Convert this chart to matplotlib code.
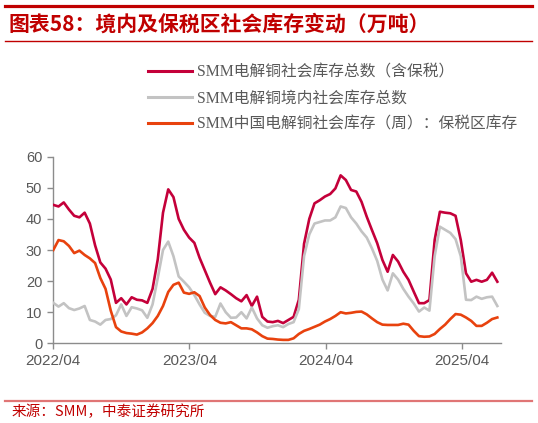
import matplotlib
matplotlib.use("Agg")
import matplotlib.pyplot as plt
from matplotlib.lines import Line2D
import pandas as pd

# ---- data (万吨), biweekly readings starting 2022-04-01 ----
start_date = "2022-04-01"
total_incl_bonded = [
    44.5, 44.0, 45.3, 43.0, 41.0, 40.5, 42.0, 38.5, 31.5, 26.0,
    24.0, 20.5, 13.0, 14.5, 12.5, 14.8, 14.0, 13.8, 13.0, 17.5,
    27.0, 42.0, 49.5, 47.0, 40.0, 36.5, 34.0, 32.3, 27.5, 23.5,
    19.5, 15.8, 18.0, 17.0, 15.8, 14.5, 13.5, 15.5, 12.0, 15.0,
    8.5, 7.0, 6.8, 7.2, 6.5, 7.5, 8.5, 14.0, 32.0, 40.0,
    45.0, 46.0, 47.2, 48.0, 49.8, 54.0, 52.5, 49.3, 48.8, 45.5,
    40.7, 36.4, 32.2, 26.8, 23.0, 28.4, 26.3, 23.0, 20.4, 16.6,
    12.9, 12.9, 13.9, 33.2, 42.3, 42.0, 41.8, 41.0, 33.2, 22.5,
    19.8, 20.4, 19.8, 20.4, 22.7, 19.8,
]
domestic_total = [
    13.0, 11.8, 12.9, 11.3, 10.7, 11.2, 12.0, 7.5, 7.0, 6.0,
    7.5, 7.8, 9.0, 12.5, 8.8, 11.6, 11.2, 10.6, 8.2, 12.5,
    21.0, 30.0, 32.7, 28.0, 21.5, 19.8, 18.0, 15.5, 12.5, 9.8,
    8.8, 8.5, 12.8, 10.0, 8.2, 8.3, 10.0, 8.0, 11.5, 8.0,
    5.8, 5.0, 5.5, 5.8, 5.2, 6.2, 6.8, 11.0, 28.0, 35.0,
    38.5, 39.0, 39.5, 39.5, 40.5, 44.0, 43.5, 40.5, 38.5, 36.0,
    34.0, 30.5, 26.5, 20.5, 17.0, 22.5, 20.5, 17.5, 15.0, 12.8,
    10.2, 11.5, 10.5, 28.0, 37.5, 36.5, 35.5, 33.5, 28.0, 14.0,
    13.9, 15.0, 14.3, 14.8, 15.0, 12.0,
]
bonded_zone = [
    30.0, 33.2, 32.8, 31.3, 29.0, 29.8, 28.4, 27.3, 25.8, 21.0,
    17.5, 10.5, 5.2, 3.8, 3.3, 3.1, 2.8, 3.5, 4.8, 6.5,
    8.8, 12.0, 16.5, 18.8, 19.5, 16.3, 15.9, 16.4, 15.2, 11.5,
    9.1, 7.5, 6.6, 6.4, 6.8, 5.8, 4.8, 4.8, 4.5, 3.5,
    2.3, 1.5, 1.4, 1.2, 1.1, 1.1, 1.6, 3.0, 4.0, 4.6,
    5.3, 6.0, 7.0, 7.8, 8.8, 10.0, 9.6, 9.8, 10.1, 10.2,
    9.3, 8.0, 6.8, 6.0, 5.9, 5.9, 5.9, 6.3, 6.0, 4.0,
    2.3, 2.1, 2.2, 3.0, 4.6, 6.0, 7.8, 9.4, 9.2, 8.3,
    7.2, 5.6, 5.6, 6.6, 7.8, 8.3,
]
series_labels = [
    "SMM电解铜社会库存总数（含保税）",
    "SMM电解铜境内社会库存总数",
    "SMM中国电解铜社会库存（周）：保税区库存",
]
tick_dates = ["2022-04-01", "2023-04-01", "2024-04-01", "2025-04-01"]
tick_labels = ["2022/04", "2023/04", "2024/04", "2025/04"]
y_ticks = [0, 10, 20, 30, 40, 50, 60]

dates = pd.date_range(start_date, periods=len(total_incl_bonded), freq="14D")

W, H = 538, 423
fig = plt.figure(figsize=(W / 100, H / 100), dpi=100)
fig.patch.set_facecolor("white")

ax = fig.add_axes([53.3 / W, 79.7 / H, 447.4 / W, 186.6 / H])

colors = ["#C4003A", "#C3C3C3", "#E8420E"]
lw = 1.9
l1, = ax.plot(dates, total_incl_bonded, color=colors[0], lw=lw, solid_joinstyle="round", zorder=3)
l2, = ax.plot(dates, domestic_total, color=colors[1], lw=lw, solid_joinstyle="round", zorder=4)
l3, = ax.plot(dates, bonded_zone, color=colors[2], lw=lw, solid_joinstyle="round", zorder=5)

ax.set_ylim(0, 60)
ax.set_yticks(y_ticks)
x0 = pd.Timestamp(start_date)
ax.set_xlim(x0, x0 + pd.Timedelta(days=1199))
ax.set_xticks([pd.Timestamp(d) for d in tick_dates])
ax.set_xticklabels(tick_labels)

for s in ["top", "right"]:
    ax.spines[s].set_visible(False)
for s in ["left", "bottom"]:
    ax.spines[s].set_color("#8C8C8C")
    ax.spines[s].set_linewidth(1.0)
ax.tick_params(axis="y", direction="out", length=4, width=1.0, color="#8C8C8C",
               labelsize=10.5, labelcolor="#595959", pad=4)
ax.tick_params(axis="x", direction="out", length=4, width=1.0, color="#8C8C8C",
               labelsize=11, labelcolor="#595959", pad=4)
for lab in ax.get_xticklabels() + ax.get_yticklabels():
    lab.set_fontfamily(["Liberation Sans", "DejaVu Sans"])

leg = fig.legend([l1, l2, l3], series_labels, loc="upper left",
                 bbox_to_anchor=(148.3 / W, 1 - 64.5 / H), frameon=False,
                 borderpad=0, borderaxespad=0, handlelength=2.8, handletextpad=0.3,
                 labelspacing=0.64,
                 prop={"family": ["Liberation Serif", "Noto Sans CJK SC"], "size": 11.3})
for t in leg.get_texts():
    t.set_color("#595959")
for h in leg.legend_handles:
    h.set_linewidth(2.2)

# header / footer decorations
fig.add_artist(Line2D([5 / W, 532 / W], [1 - 6.5 / H, 1 - 6.5 / H], transform=fig.transFigure,
                      color="#C00000", lw=2.3))
fig.add_artist(Line2D([5 / W, 532 / W], [1 - 41 / H, 1 - 41 / H], transform=fig.transFigure,
                      color="#C00000", lw=1.0))
fig.add_artist(Line2D([5 / W, 532 / W], [1 - 400.5 / H, 1 - 400.5 / H], transform=fig.transFigure,
                      color="#E07575", lw=1.6))

fig.text(8.5 / W, 1 - 24 / H, "图表58：境内及保税区社会库存变动（万吨）", color="#C00000",
         fontsize=15, fontweight="bold", family=["Noto Sans CJK SC", "DejaVu Sans"],
         ha="left", va="center")
fig.text(12 / W, 1 - 412 / H, "来源：SMM，中泰证券研究所", color="#C00000",
         fontsize=10.5, family=["Noto Sans CJK SC", "DejaVu Sans"], ha="left", va="center")

fig.savefig("out.png", dpi=100, facecolor="white")
